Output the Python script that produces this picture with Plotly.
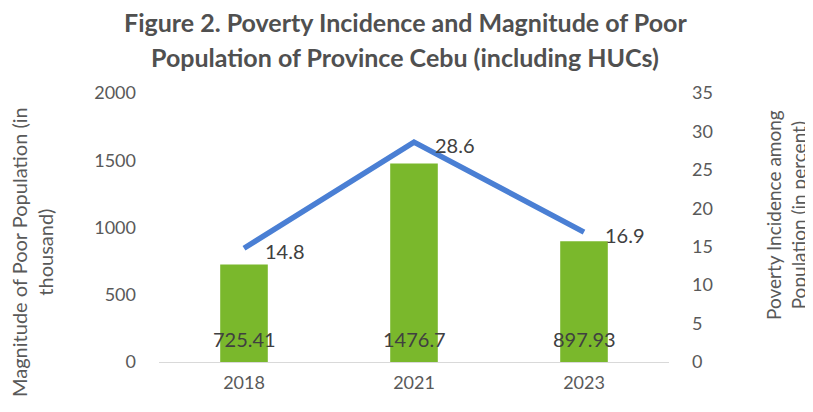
import plotly.graph_objects as go

years = ["2018", "2021", "2023"]
magnitude = [725.41, 1476.7, 897.93]
incidence = [14.8, 28.6, 16.9]
magnitude_labels = ["725.41", "1476.7", "897.93"]
incidence_labels = ["14.8", "28.6", "16.9"]

FONT = "Lato"
TXT = "#404040"
GRAY = "#595959"

# page body has an 8px default margin; shrink figure so it fits the window
OFF = 8
W, H = 813 - OFF, 412 - OFF
L, T = 159 - OFF, 93 - OFF
PW, PH = 510, 269


def px(xabs):
    return (xabs - OFF - L) / PW


def py(yabs):
    return (T + PH - (yabs - OFF)) / PH


fig = go.Figure()
fig.add_trace(go.Bar(
    x=years, y=magnitude,
    marker=dict(color="#7ab82c", line=dict(width=0)),
    width=0.28, yaxis="y",
))
fig.add_trace(go.Scatter(
    x=years, y=incidence, mode="lines",
    line=dict(color="#4a7fd4", width=5.5),
    yaxis="y2", cliponaxis=False,
))

annotations = []
for i, (v, lab) in enumerate(zip(magnitude, magnitude_labels)):
    annotations.append(dict(
        text=lab, xref="x", yref="y", x=i, y=0, yshift=23,
        xanchor="center", yanchor="middle", showarrow=False,
        font=dict(family=FONT, size=20, color=TXT)))
for i, (v, lab) in enumerate(zip(incidence, incidence_labels)):
    annotations.append(dict(
        text=lab, xref="x", yref="y2", x=i, y=v, xshift=19, yshift=-3,
        xanchor="left", yanchor="middle", showarrow=False,
        font=dict(family=FONT, size=20, color=TXT)))

annotations += [
    dict(text="Figure 2. Poverty Incidence and Magnitude of Poor",
         xref="paper", yref="paper", x=px(405), y=py(22),
         xanchor="center", yanchor="middle", showarrow=False,
         font=dict(family=FONT, size=25, color="#505050", weight="bold")),
    dict(text="Population of Province Cebu (including HUCs)",
         xref="paper", yref="paper", x=px(405), y=py(57),
         xanchor="center", yanchor="middle", showarrow=False,
         font=dict(family=FONT, size=25, color="#505050", weight="bold")),
    dict(text="Magnitude of Poor Population (in<br>thousand)", textangle=-90,
         xref="paper", yref="paper", x=px(32), y=py(252),
         xanchor="center", yanchor="middle", showarrow=False,
         font=dict(family=FONT, size=20, color=GRAY)),
    dict(text="Poverty Incidence among<br>Population (in percent)", textangle=-90,
         xref="paper", yref="paper", x=px(786), y=py(215),
         xanchor="center", yanchor="middle", showarrow=False,
         font=dict(family=FONT, size=19, color=GRAY)),
]

fig.update_layout(
    width=W, height=H,
    margin=dict(l=L, r=W - L - PW, t=T, b=H - T - PH, autoexpand=False),
    paper_bgcolor="white", plot_bgcolor="white",
    showlegend=False,
    font=dict(family=FONT, color=GRAY),
    xaxis=dict(
        type="category", showgrid=False, showline=False, zeroline=False,
        tickfont=dict(family=FONT, size=18, color=GRAY),
        ticklabelstandoff=8, automargin=False,
    ),
    yaxis=dict(
        range=[0, 2000], tickvals=[0, 500, 1000, 1500, 2000],
        showgrid=False, zeroline=True, zerolinecolor="#d9d9d9", zerolinewidth=1,
        showline=False, automargin=False,
        tickfont=dict(family=FONT, size=18, color=GRAY),
        ticklabelstandoff=22,
    ),
    yaxis2=dict(
        range=[0, 35], tickvals=[0, 5, 10, 15, 20, 25, 30, 35],
        overlaying="y", side="right", showgrid=False, zeroline=False, showline=False,
        automargin=False,
        tickfont=dict(family=FONT, size=18, color=GRAY),
        ticklabelstandoff=22,
    ),
    annotations=annotations,
)

fig.write_html("out.html")
